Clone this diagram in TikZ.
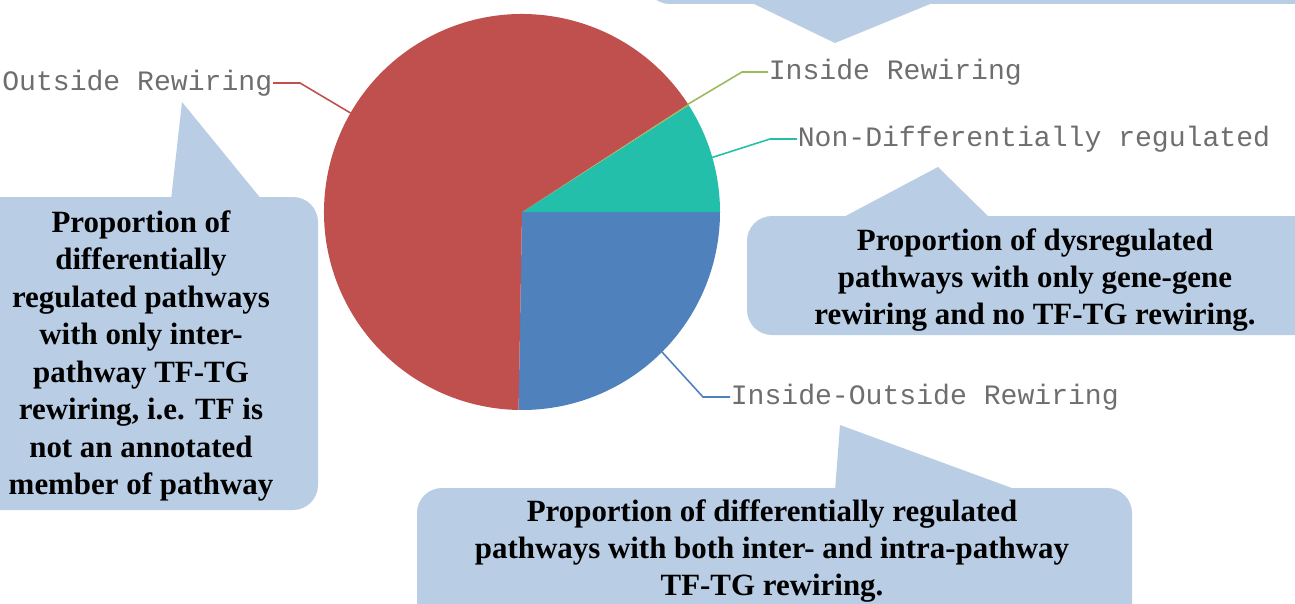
\documentclass[tikz,border=0pt]{standalone}
\usepackage{fontspec}
\setmainfont{Liberation Serif}
\newfontfamily\monolabel{Liberation Mono}
\usetikzlibrary{calc}
\definecolor{pieRed}{HTML}{C0504D}
\definecolor{pieTeal}{HTML}{23BFAA}
\definecolor{pieBlue}{HTML}{4F81BD}
\definecolor{pieGreen}{HTML}{9BBB59}
\definecolor{calloutBlue}{HTML}{B9CDE4}
\definecolor{labelGray}{HTML}{6E6E6E}

\begin{document}
\begin{tikzpicture}[x=0.02cm,y=0.02cm,line width=0.9pt,
					callout/.style={fill=calloutBlue,rounded corners=0.5cm},
					pointer/.style={fill=calloutBlue},
					leader/.style={line width=0.9pt},
					calltext/.style={font=\bfseries\fontsize{17.6pt}{21.3pt}\selectfont,align=center,inner sep=0pt}]
					\tikzstyle{pielabel}=[font=\monolabel\fontsize{16pt}{19pt}\selectfont,text=labelGray,inner sep=0pt]
					
					\path[use as bounding box] (0,0) rectangle (1295,603);
					\clip (0,0) rectangle (1295,603);
					
					% pie
					\coordinate (O) at (522,391);
					\fill[pieBlue]  (O) -- ++(-91:198) arc[start angle=-91,end angle=0,radius=198] -- cycle;
					\fill[pieTeal]  (O) -- ++(0:198) arc[start angle=0,end angle=32.6,radius=198] -- cycle;
					\fill[pieGreen] (O) -- ++(32.6:198) arc[start angle=32.6,end angle=33,radius=198] -- cycle;
					\fill[pieRed]   (O) -- ++(33:198) arc[start angle=33,end angle=269,radius=198] -- cycle;
					
					% callouts
					\fill[pointer] (750,601) -- (835,560) -- (935,601) -- cycle;
					\fill[callout] (645,599) rectangle (1400,700);
					\fill[pointer] (171,403) -- (182,501) -- (262,403) -- cycle;
					\fill[callout] (-40,93) rectangle (318,406);
					\fill[pointer] (838,383) -- (938,436) -- (992,383) -- cycle;
					\fill[callout] (747,268) rectangle (1330,387);
					\fill[pointer] (835,112) -- (840,178) -- (1020,112) -- cycle;
					\fill[callout] (417,-50) rectangle (1132,115);
					
					\node[calltext] (T_out)  at (141,247)  {Proportion of\\differentially\\regulated pathways\\with only inter-\\pathway TF-TG\\rewiring, i.e. TF is\\not an annotated\\member of pathway};
					\node[calltext] (T_non)  at (1035,323) {Proportion of dysregulated\\pathways with only gene-gene\\rewiring and no TF-TG rewiring.};
					\node[calltext] (T_both) at (772,52)   {Proportion of differentially regulated\\pathways with both inter- and intra-pathway\\TF-TG rewiring.};
					
					% labels
					\node[pielabel,anchor=east] (L_out)  at (273,520) {Outside Rewiring};
					\node[pielabel,anchor=west] (L_in)   at (768,531) {Inside Rewiring};
					\node[pielabel,anchor=west] (L_non)  at (797,464) {Non-Differentially regulated};
					\node[pielabel,anchor=west] (L_both) at (730,206) {Inside-Outside Rewiring};
					
					\coordinate (E_out)  at ($(O)+(150:198)$);
					\coordinate (E_in)   at ($(O)+(33:198)$);
					\coordinate (E_non)  at ($(O)+(16:198)$);
					\coordinate (E_both) at ($(O)+(-45:198)$);
					
					\draw[leader,pieRed]   (E_out)  -- (300,520) -- (L_out.east);
					\draw[leader,pieGreen] (E_in)   -- (742,531) -- (L_in.west);
					\draw[leader,pieTeal]  (E_non)  -- (770,464) -- (L_non.west);
					\draw[leader,pieBlue]  (E_both) -- (703,206) -- (L_both.west);
\end{tikzpicture}
\end{document}
